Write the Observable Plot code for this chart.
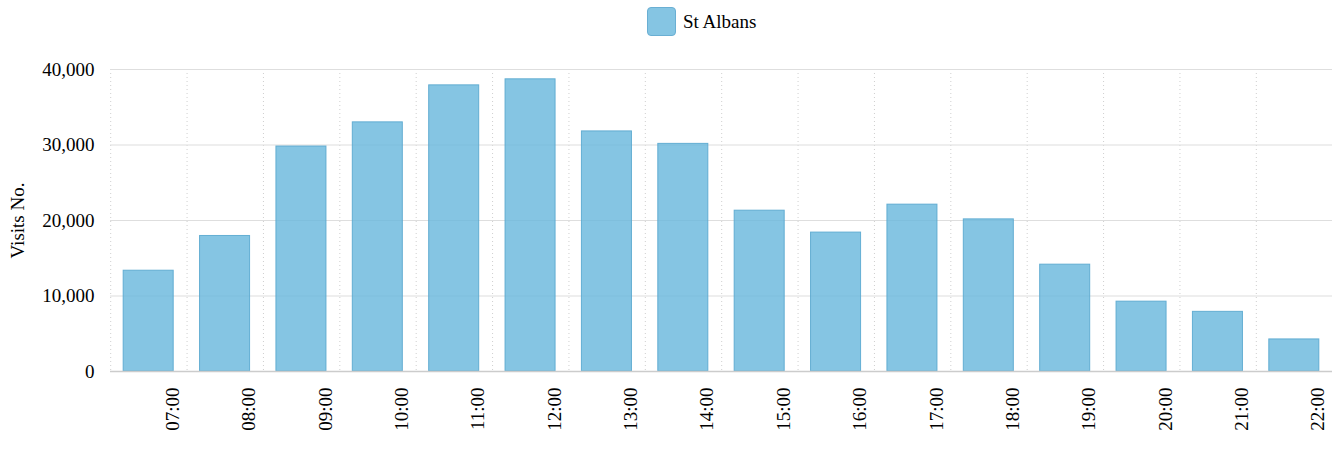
<!DOCTYPE html>
<html>
<head>
<meta charset="utf-8">
<script src="https://cdn.jsdelivr.net/npm/d3@7"></script>
<script src="https://cdn.jsdelivr.net/npm/@observablehq/plot@0.6"></script>
<style>
  body { margin: 0; background: #fff; font-family: "Liberation Serif", "Times New Roman", serif; }
  #legend { position: relative; height: 44px; }
  #legend .item { position: absolute; left: 647px; top: 7px; display: flex; align-items: center; }
  #legend .sw { width: 29px; height: 29px; border-radius: 4px; background: rgba(103,183,220,0.8); border: 1px solid #6aafd3; box-sizing: border-box; }
  #legend .lbl { margin-left: 7px; font-family: "Liberation Serif", serif; font-size: 19px; color: #000; }
  #chart svg { display: block; }
  #chart svg text { font-family: "Liberation Serif", serif; }
</style>
</head>
<body>
<div id="legend"></div>
<div id="chart"></div>
<script>
const seriesName = "St Albans";
const yLabel = "Visits No.";
const hours = ["07:00","08:00","09:00","10:00","11:00","12:00","13:00","14:00","15:00","16:00","17:00","18:00","19:00","20:00","21:00","22:00"];
const visits = [13350, 17950, 29800, 33000, 37900, 38700, 31800, 30150, 21300, 18400, 22100, 20150, 14150, 9250, 7900, 4250];
const yTicks = [0, 10000, 20000, 30000, 40000];

const data = hours.map((h, i) => ({hour: h, visits: visits[i]}));

const legend = document.getElementById("legend");
legend.innerHTML = `<div class="item"><span class="sw"></span><span class="lbl"></span></div>`;
legend.querySelector(".lbl").textContent = seriesName;

const chart = Plot.plot({
  width: 1336,
  height: 416,
  marginLeft: 110,
  marginRight: 4,
  marginTop: 25,
  marginBottom: 89,
  style: {fontFamily: '"Liberation Serif", serif', fontSize: "19px", color: "#000", background: "transparent"},
  x: {type: "band", domain: hours, paddingInner: 0.345, paddingOuter: 0.1725, align: 0.5, round: false},
  y: {domain: [0, 40000]},
  marks: [
    Plot.ruleX(hours, {x: d => d, dx: -38, stroke: "#cfcfcf", strokeDasharray: "1,3"}),
    Plot.ruleY(yTicks.slice(1), {stroke: "#dedede", strokeWidth: 1.2}),
    Plot.barY(data, {x: "hour", y: "visits", fill: "#67b7dc", fillOpacity: 0.8, stroke: "#5aa8cf", strokeOpacity: 0.9, strokeWidth: 1}),
    Plot.ruleY([0], {stroke: "#cccccc", strokeWidth: 1.5}),
    Plot.axisY({ticks: yTicks, tickFormat: d3.format(","), tickSize: 0, tickPadding: 16, label: null, fontSize: 19}),
    Plot.axisX({tickRotate: -90, tickSize: 0, tickPadding: 16, dx: 24, label: null, fontSize: 19}),
    Plot.text([yLabel], {frameAnchor: "left", textAnchor: "middle", lineAnchor: "middle", rotate: -90, dx: -93, dy: 0, fontSize: 19, fill: "#000"})
  ]
});
document.getElementById("chart").appendChild(chart);
</script>
</body>
</html>
